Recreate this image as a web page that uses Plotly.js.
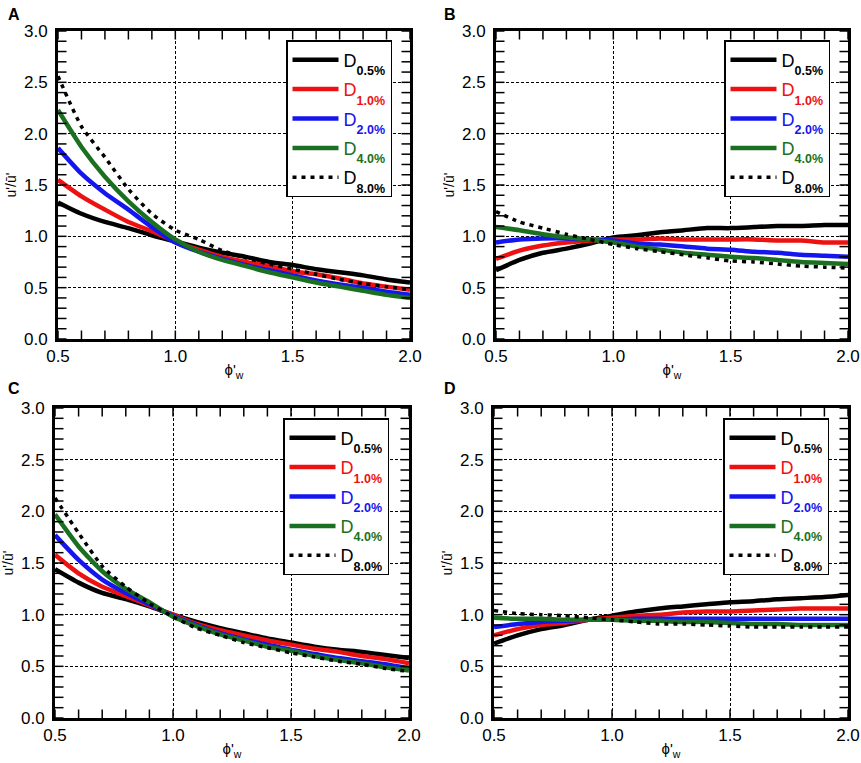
<!DOCTYPE html>
<html>
<head>
<meta charset="utf-8">
<script src="https://cdn.plot.ly/plotly-3.0.1.min.js"></script>
<style>
  html, body { margin: 0; padding: 0; background: #fff; }
  #chart { width: 861px; height: 763px; }
</style>
</head>
<body>
<div id="chart"></div>
<script>
// wall porosity phi'_w
var phi = [0.5, 0.6, 0.7, 0.8, 0.9, 1.0, 1.1, 1.2, 1.3, 1.4, 1.5, 1.6, 1.7, 1.8, 1.9, 2.0];

// panel A
var aD05 = [1.33, 1.22, 1.14, 1.08, 1.01, 0.95, 0.89, 0.84, 0.80, 0.75, 0.72, 0.68, 0.65, 0.62, 0.58, 0.55];
var aD10 = [1.55, 1.39, 1.26, 1.14, 1.05, 0.95, 0.87, 0.80, 0.75, 0.71, 0.66, 0.63, 0.59, 0.54, 0.51, 0.48];
var aD20 = [1.86, 1.61, 1.42, 1.26, 1.09, 0.94, 0.85, 0.78, 0.72, 0.67, 0.62, 0.57, 0.53, 0.50, 0.46, 0.43];
var aD40 = [2.23, 1.87, 1.58, 1.34, 1.14, 0.97, 0.85, 0.77, 0.71, 0.65, 0.60, 0.55, 0.51, 0.47, 0.43, 0.40];
var aD80 = [2.56, 2.07, 1.77, 1.46, 1.22, 1.06, 0.97, 0.86, 0.79, 0.73, 0.68, 0.63, 0.58, 0.54, 0.51, 0.48];

// panel B
var bD05 = [0.67, 0.77, 0.84, 0.88, 0.93, 0.99, 1.01, 1.04, 1.06, 1.08, 1.08, 1.09, 1.10, 1.10, 1.11, 1.11];
var bD10 = [0.78, 0.86, 0.91, 0.94, 0.96, 0.97, 0.97, 0.98, 0.97, 0.97, 0.97, 0.97, 0.96, 0.96, 0.94, 0.94];
var bD20 = [0.94, 0.97, 0.98, 0.98, 0.97, 0.96, 0.93, 0.92, 0.90, 0.88, 0.87, 0.85, 0.84, 0.82, 0.81, 0.80];
var bD40 = [1.09, 1.06, 1.02, 0.99, 0.97, 0.94, 0.90, 0.87, 0.84, 0.82, 0.80, 0.79, 0.77, 0.75, 0.74, 0.73];
var bD80 = [1.24, 1.14, 1.08, 1.02, 0.97, 0.92, 0.88, 0.85, 0.82, 0.79, 0.76, 0.75, 0.73, 0.71, 0.70, 0.69];

// panel C
var cD05 = [1.44, 1.31, 1.21, 1.15, 1.08, 1.00, 0.93, 0.87, 0.82, 0.77, 0.73, 0.69, 0.66, 0.64, 0.61, 0.58];
var cD10 = [1.58, 1.40, 1.27, 1.18, 1.09, 1.00, 0.91, 0.85, 0.80, 0.75, 0.71, 0.67, 0.64, 0.60, 0.57, 0.53];
var cD20 = [1.77, 1.53, 1.34, 1.21, 1.10, 0.99, 0.90, 0.82, 0.76, 0.71, 0.66, 0.62, 0.58, 0.55, 0.52, 0.48];
var cD40 = [1.97, 1.66, 1.42, 1.25, 1.12, 0.98, 0.89, 0.81, 0.75, 0.69, 0.65, 0.60, 0.56, 0.53, 0.49, 0.46];
var cD80 = [2.13, 1.79, 1.47, 1.27, 1.11, 0.98, 0.87, 0.80, 0.73, 0.68, 0.63, 0.59, 0.55, 0.52, 0.48, 0.45];

// panel D
var dD05 = [0.72, 0.80, 0.86, 0.90, 0.95, 0.99, 1.03, 1.06, 1.08, 1.10, 1.12, 1.13, 1.15, 1.16, 1.17, 1.19];
var dD10 = [0.80, 0.86, 0.90, 0.92, 0.95, 0.97, 0.99, 1.00, 1.02, 1.03, 1.03, 1.04, 1.05, 1.06, 1.06, 1.06];
var dD20 = [0.88, 0.91, 0.93, 0.94, 0.95, 0.95, 0.96, 0.96, 0.96, 0.96, 0.96, 0.96, 0.96, 0.96, 0.96, 0.96];
var dD40 = [0.97, 0.96, 0.96, 0.95, 0.95, 0.95, 0.94, 0.94, 0.93, 0.93, 0.92, 0.91, 0.91, 0.90, 0.90, 0.90];
var dD80 = [1.04, 1.01, 1.00, 0.99, 0.97, 0.95, 0.93, 0.91, 0.91, 0.90, 0.89, 0.88, 0.88, 0.88, 0.88, 0.88];

// tick marks every 0.1, labels every 0.5
var xTickVals = [0.5, 0.6, 0.7, 0.8, 0.9, 1.0, 1.1, 1.2, 1.3, 1.4, 1.5, 1.6, 1.7, 1.8, 1.9, 2.0];
var xTickText = ['0.5', '', '', '', '', '1.0', '', '', '', '', '1.5', '', '', '', '', '2.0'];
var yTickVals = [0.0, 0.1, 0.2, 0.3, 0.4, 0.5, 0.6, 0.7, 0.8, 0.9, 1.0, 1.1, 1.2, 1.3, 1.4, 1.5,
                 1.6, 1.7, 1.8, 1.9, 2.0, 2.1, 2.2, 2.3, 2.4, 2.5, 2.6, 2.7, 2.8, 2.9, 3.0];
var yTickText = ['0.0', '', '', '', '', '0.5', '', '', '', '', '1.0', '', '', '', '', '1.5',
                 '', '', '', '', '2.0', '', '', '', '', '2.5', '', '', '', '', '3.0'];

var seriesNames = ['0.5%', '1.0%', '2.0%', '4.0%', '8.0%'];
var seriesColors = ['#000000', '#ee1111', '#1515ee', '#1a7020', '#000000'];
var panelLabels = ['A', 'B', 'C', 'D'];

var panels = [
  [aD05, aD10, aD20, aD40, aD80],
  [bD05, bD10, bD20, bD40, bD80],
  [cD05, cD10, cD20, cD40, cD80],
  [dD05, dD10, dD20, dD40, dD80]
];

var W = 861, H = 763;
var FONT = 'Liberation Sans, Arial, Helvetica, sans-serif';
var TICK_LEN = 8.5;
// plot boxes in pixels: [left, right, top, bottom]
var boxes = [
  [58, 410, 31, 339],
  [496, 848, 31, 339],
  [55, 409, 408, 718],
  [494, 848, 408, 718]
];
// legend top-left corners in pixels
var legendPos = [[286, 40], [724, 40], [283, 418], [723, 418]];

function legendName(i) {
  return '<span style="color:' + seriesColors[i] + '">D<span style="font-size:40px"><sub>' +
    '<span style="font-size:12.5px;font-weight:bold">' + seriesNames[i] + '</span></sub></span></span>';
}

var data = [];
panels.forEach(function (series, p) {
  var sfx = p === 0 ? '' : String(p + 1);
  series.forEach(function (ys, i) {
    var dotted = i === 4;
    data.push({
      x: phi,
      y: ys,
      type: 'scatter',
      mode: 'lines',
      // the dotted series sits on the twin axes that carry the dashed grid
      xaxis: dotted ? 'x' + (p + 5) : 'x' + sfx,
      yaxis: dotted ? 'y' + (p + 5) : 'y' + sfx,
      legend: 'legend' + sfx,
      legendgroup: 'g' + p + '_' + i,
      name: legendName(i),
      line: dotted
        ? {color: '#000', width: 3.5, dash: '4px,5px', shape: 'spline', smoothing: 0.6}
        : {color: seriesColors[i], width: 4.5, shape: 'spline', smoothing: 0.6},
      hoverinfo: 'skip'
    });
  });
});

function axisBase(vals, text, range) {
  return {
    range: range,
    tickmode: 'array',
    tickvals: vals,
    ticktext: text,
    showline: true,
    linewidth: 3,
    linecolor: '#000',
    mirror: true,
    ticks: '',
    showgrid: false,
    zeroline: false,
    tickfont: {family: FONT, size: 17, color: '#000'},
    fixedrange: true
  };
}

// twin axis that only draws the dashed grid every 0.5
function gridAxis(over, anchor, range) {
  return {
    overlaying: over,
    anchor: anchor,
    range: range,
    dtick: 0.5,
    tick0: 0,
    ticks: '',
    showticklabels: false,
    showgrid: true,
    gridcolor: '#000',
    gridwidth: 1,
    griddash: '3px,2px',
    showline: false,
    zeroline: false,
    fixedrange: true
  };
}

// inward tick marks on all four edges, placed by the axis scales
function edgeTicks(xr, yr) {
  var out = [];
  var tl = {color: '#000', width: 1.5};
  xTickVals.forEach(function (v) {
    out.push({type: 'line', xref: xr, yref: yr + ' domain', x0: v, x1: v,
      ysizemode: 'pixel', yanchor: 0, y0: 0, y1: TICK_LEN, line: tl});
    out.push({type: 'line', xref: xr, yref: yr + ' domain', x0: v, x1: v,
      ysizemode: 'pixel', yanchor: 1, y0: 0, y1: -TICK_LEN, line: tl});
  });
  yTickVals.forEach(function (v) {
    out.push({type: 'line', xref: xr + ' domain', yref: yr, y0: v, y1: v,
      xsizemode: 'pixel', xanchor: 0, x0: 0, x1: TICK_LEN, line: tl});
    out.push({type: 'line', xref: xr + ' domain', yref: yr, y0: v, y1: v,
      xsizemode: 'pixel', xanchor: 1, x0: 0, x1: -TICK_LEN, line: tl});
  });
  return out;
}

var layout = {
  width: W,
  height: H,
  margin: {l: 0, r: 0, t: 0, b: 0},
  paper_bgcolor: '#fff',
  plot_bgcolor: '#fff',
  font: {family: FONT, color: '#000'},
  showlegend: true,
  annotations: [],
  shapes: []
};

boxes.forEach(function (b, p) {
  var sfx = p === 0 ? '' : String(p + 1);
  var xa = axisBase(xTickVals, xTickText, [0.5, 2.0]);
  xa.domain = [b[0] / W, b[1] / W];
  xa.anchor = 'y' + sfx;
  xa.title = {text: 'ϕ\'<sub>w</sub>', font: {size: 15}, standoff: 0};
  var ya = axisBase(yTickVals, yTickText, [0, 3.0]);
  ya.domain = [1 - b[3] / H, 1 - b[2] / H];
  ya.anchor = 'x' + sfx;
  ya.ticklabelstandoff = 4;
  ya.title = {text: 'u\'/ū\'', font: {size: 14}, standoff: 5};
  layout['xaxis' + sfx] = xa;
  layout['yaxis' + sfx] = ya;
  layout['xaxis' + (p + 5)] = gridAxis('x' + sfx, 'y' + (p + 5), xa.range);
  layout['yaxis' + (p + 5)] = gridAxis('y' + sfx, 'x' + (p + 5), ya.range);

  layout.shapes = layout.shapes.concat(edgeTicks('x' + sfx, 'y' + sfx));

  layout['legend' + sfx] = {
    x: legendPos[p][0] / W,
    y: 1 - legendPos[p][1] / H,
    xanchor: 'left',
    yanchor: 'top',
    bgcolor: '#fff',
    bordercolor: '#000',
    borderwidth: 1.5,
    itemwidth: 46,
    tracegroupgap: 3,
    font: {family: FONT, size: 18, color: '#000'}
  };

  layout.annotations.push({
    text: '<b>' + panelLabels[p] + '</b>',
    xref: 'paper', yref: 'paper',
    x: (p % 2 === 0 ? 6 : 442) / W,
    y: 1 - (p < 2 ? 4 : 378) / H,
    xanchor: 'left', yanchor: 'top',
    showarrow: false,
    font: {size: 16, color: '#000'}
  });
});

Plotly.newPlot('chart', data, layout, {displayModeBar: false, staticPlot: true});
</script>
</body>
</html>
